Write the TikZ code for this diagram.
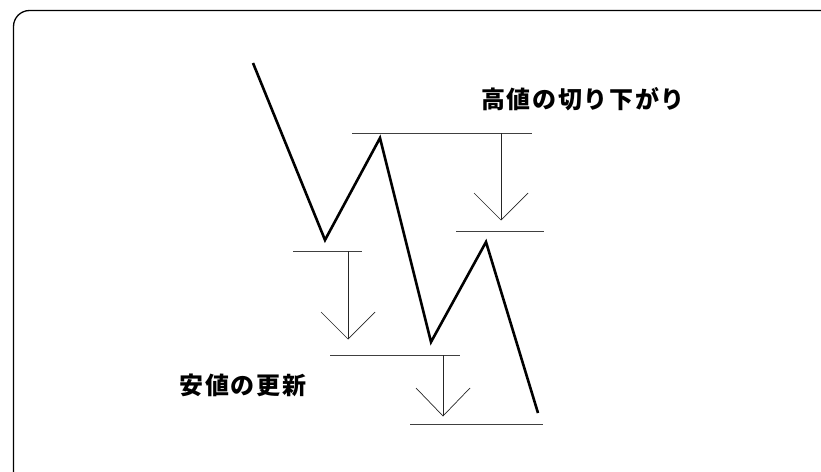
\documentclass[tikz,border=0pt]{standalone}
\usepackage{fontspec}
\newfontfamily\cjk{Noto Sans CJK JP}[BoldFont={Noto Sans CJK JP Black}, LetterSpace=7]
\begin{document}
\begin{tikzpicture}[x=1pt,y=-1pt,
  frame/.style={line width=1.3pt, rounded corners=16pt},
  zig/.style={line width=2.6pt, line join=miter},
  level/.style={line width=0.9pt, black!75},
  drop/.style={line width=0.7pt, black!85},
  head/.style={line width=0.7pt, black!85},
  label/.style={font=\cjk\bfseries\fontsize{24}{28}\selectfont, inner sep=0pt}]
\useasboundingbox (0,0) rectangle (821,471);
\draw[frame] (13.5,500) -- (13.5,10.5) -- (860,10.5);
% price zigzag
\draw[zig] (253,63) -- (325,240) -- (380,138) -- (431,342) -- (486,242) -- (538,413);
% level lines
\draw[level] (352,133) -- (532,133);
\draw[level] (456,231) -- (544,231);
\draw[level] (293,251) -- (362,251);
\draw[level] (330,355) -- (460,355);
\draw[level] (410,424) -- (543,424);
% arrows
\coordinate (a1s) at (501,133); \coordinate (a1e) at (501,220);
\coordinate (a2s) at (348,251); \coordinate (a2e) at (348,339);
\coordinate (a3s) at (443,355); \coordinate (a3e) at (443,416);
\draw[drop] (a1s) -- (a1e);
\draw[head] ([xshift=-27pt,yshift=27pt]a1e) -- (a1e) -- ([xshift=27pt,yshift=27pt]a1e);
\draw[drop] (a2s) -- (a2e);
\draw[head] ([xshift=-27pt,yshift=27pt]a2e) -- (a2e) -- ([xshift=27pt,yshift=27pt]a2e);
\draw[drop] (a3s) -- (a3e);
\draw[head] ([xshift=-27pt,yshift=28pt]a3e) -- (a3e) -- ([xshift=27pt,yshift=28pt]a3e);
% labels
\node[label] (high) at (583,99) {高値の切り下がり};
\node[label] (low) at (243,385) {安値の更新};
\end{tikzpicture}
\end{document}
